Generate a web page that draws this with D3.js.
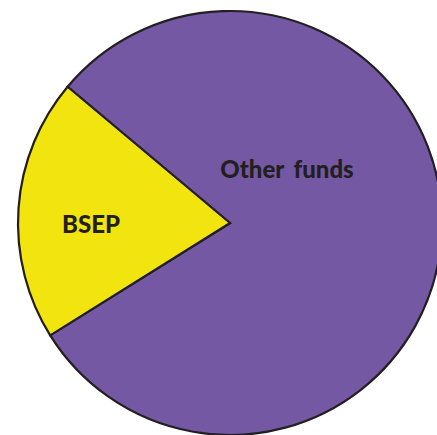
<!DOCTYPE html>
<html>
<head>
<meta charset="utf-8">
<script src="https://cdn.jsdelivr.net/npm/d3@7"></script>
<style>
    html, body { margin: 0; padding: 0; background: #ffffff; overflow: hidden; }
    svg { display: block; }
</style>
</head>
<body>
<div id="chart"></div>
<script>
'use strict';

// Données du camembert
const categories = ["Other funds", "BSEP"];
const valeurs = [80, 20];
const couleurs = ["#7458a4", "#f2e50f"];

const LARGEUR = 437;
const HAUTEUR = 435;
const CENTRE_X = 230;
const CENTRE_Y = 223;
const RAYON = 212;

/**
 * Dessiner le camembert et ses étiquettes
 */
function dessinerCamembert() {
    const svg = d3.select("#chart")
        .append("svg")
        .attr("width", LARGEUR)
        .attr("height", HAUTEUR);

    const g = svg.append("g")
        .attr("transform", `translate(${CENTRE_X},${CENTRE_Y})`);

    const couleur = d3.scaleOrdinal().domain(categories).range(couleurs);

    // "Other funds" commence en haut à gauche, BSEP finit le tour
    const pie = d3.pie()
        .sort(null)
        .value(d => d.valeur)
        .startAngle(-50 * Math.PI / 180)
        .endAngle(310 * Math.PI / 180);

    const arc = d3.arc().innerRadius(0).outerRadius(RAYON);

    const donnees = categories.map((c, i) => ({ categorie: c, valeur: valeurs[i] }));
    const parts = pie(donnees);

    g.selectAll("path")
        .data(parts)
        .join("path")
        .attr("d", arc)
        .attr("fill", d => couleur(d.data.categorie))
        .attr("stroke", "#231f20")
        .attr("stroke-width", 2.2)
        .attr("stroke-linejoin", "miter");

    // Position des étiquettes (décalage depuis le centre)
    const positionEtiquette = {
        "Other funds": [57, -45],
        "BSEP": [-139, 10]
    };

    g.selectAll("text")
        .data(parts)
        .join("text")
        .attr("x", d => positionEtiquette[d.data.categorie][0])
        .attr("y", d => positionEtiquette[d.data.categorie][1])
        .attr("text-anchor", "middle")
        .attr("font-family", "Lato, 'Open Sans', sans-serif")
        .attr("font-weight", 900)
        .attr("font-size", 24)
        .attr("word-spacing", 4)
        .attr("fill", "#231f20")
        .text(d => d.data.categorie);
}

dessinerCamembert();
</script>
</body>
</html>
